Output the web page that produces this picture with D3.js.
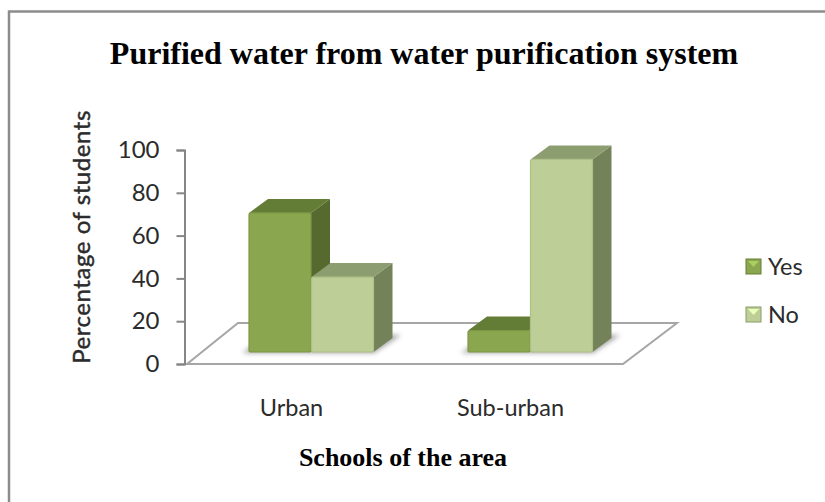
<!DOCTYPE html>
<html>
<head>
<meta charset="utf-8">
<script src="https://d3js.org/d3.v7.min.js"></script>
<style>
    html, body { margin: 0; padding: 0; background: #fff; }
    svg { display: block; }
    .tick text, .cat, .legend-label { font-family: Lato, "Open Sans", sans-serif; fill: #2b2b2b; }
    .title, .x-title { font-family: "Liberation Serif", serif; font-weight: bold; fill: #000; }
</style>
</head>
<body>
<div id="chart"></div>
<script>
var categories = ['Urban', 'Sub-urban'];
var series_names = ['Yes', 'No'];
var yes_values = [65, 10];
var no_values = [35, 90];
var y_ticks = [0, 20, 40, 60, 80, 100];

var series_colors = {
    Yes: {front: '#8aa64e', edge: '#7d9745', top: '#647d36', side: '#56692e'},
    No: {front: '#bdcf96', edge: '#aebf88', top: '#8c9e70', side: '#738259'}
};

var width = 825, height = 502;

// offset of the chart's depth direction
var depth = {dx: 19, dy: -14};
var floor = {left: 187, right: 623, front: 364, back: 323, skew: 52};
var bar_base = 352;

var svg = d3.select('#chart').append('svg')
    .attr('width', width)
    .attr('height', height);

var defs = svg.append('defs');
defs.append('filter').attr('id', 'soft')
    .attr('x', '-20%').attr('y', '-50%').attr('width', '140%').attr('height', '200%')
    .append('feGaussianBlur').attr('stdDeviation', 2.5);

// outer frame, runs off the page on the right and bottom
svg.append('path')
    .attr('d', 'M9,' + height + 'V11.5H' + width)
    .attr('fill', 'none')
    .attr('stroke', '#8c8c8c')
    .attr('stroke-width', 2.5);

svg.append('text').attr('class', 'title')
    .attr('x', 424).attr('y', 64)
    .attr('text-anchor', 'middle')
    .style('font-size', '32px')
    .text('Purified water from water purification system');

var y = d3.scaleLinear().domain([0, 100]).range([floor.front, 150]);
var x0 = d3.scaleBand().domain(categories).range([202, 640]);
var x1 = d3.scaleBand().domain(series_names).range([0, 125]);
var group_offset = (x0.bandwidth() - x1.range()[1]) / 2;

// floor of the plot
svg.append('path')
    .attr('d', 'M' + floor.left + ',' + floor.front + 'L' + floor.right + ',' + floor.front
        + 'L' + (floor.right + floor.skew + 2) + ',' + floor.back
        + 'L' + (floor.left + floor.skew - 1) + ',' + floor.back + 'Z')
    .attr('fill', '#fff')
    .attr('stroke', '#a6a6a6')
    .attr('stroke-width', 2);

var y_axis = svg.append('g')
    .attr('transform', 'translate(184.5,0)')
    .call(d3.axisLeft(y).tickValues(y_ticks).tickSize(8).tickPadding(17));
y_axis.select('.domain').attr('stroke', '#868686').attr('stroke-width', 2);
y_axis.selectAll('line').attr('stroke', '#868686').attr('stroke-width', 2);
y_axis.selectAll('text').style('font-size', '24px');

svg.append('text').attr('class', 'cat')
    .attr('transform', 'translate(90,237) rotate(-90)')
    .attr('text-anchor', 'middle')
    .style('font-size', '24px')
    .style('letter-spacing', '0.55px')
    .style('stroke', '#2b2b2b')
    .style('stroke-width', '0.45px')
    .text('Percentage of students');

// soft shadow on the floor under each group
svg.append('g').selectAll('path')
    .data(categories)
    .enter().append('path')
    .attr('filter', 'url(#soft)')
    .attr('fill', '#666')
    .attr('opacity', 0.6)
    .attr('d', function (d) {
        var l = x0(d) + group_offset, r = l + x1.range()[1];
        return 'M' + (l - 7) + ',' + (bar_base + 1) + 'L' + r + ',' + (bar_base + 1)
            + 'L' + (r + 27) + ',' + (bar_base - 17) + 'L' + (l + 20) + ',' + (bar_base - 17) + 'Z';
    });

var bars = [];
categories.forEach(function (c, i) {
    bars.push({cat: c, name: 'Yes', value: yes_values[i]});
    bars.push({cat: c, name: 'No', value: no_values[i]});
});

var bar = svg.append('g').selectAll('g')
    .data(bars)
    .enter().append('g')
    .each(function (d) {
        var g = d3.select(this);
        var l = x0(d.cat) + group_offset + x1(d.name);
        var r = l + x1.bandwidth() - 0.5;
        var top = bar_base - (y(0) - y(d.value));
        var c = series_colors[d.name];

        g.append('path')
            .attr('fill', c.side)
            .attr('d', 'M' + r + ',' + top + 'L' + (r + depth.dx) + ',' + (top + depth.dy)
                + 'V' + (bar_base + depth.dy) + 'L' + r + ',' + bar_base + 'Z');
        g.append('path')
            .attr('fill', c.top)
            .attr('d', 'M' + l + ',' + top + 'L' + (l + depth.dx) + ',' + (top + depth.dy)
                + 'H' + (r + depth.dx) + 'L' + r + ',' + top + 'Z');
        g.append('rect')
            .attr('x', l).attr('y', top)
            .attr('width', r - l).attr('height', bar_base - top)
            .attr('rx', 2)
            .attr('fill', c.front)
            .attr('stroke', c.edge)
            .attr('stroke-width', 1.2);
    });

svg.append('g').selectAll('text')
    .data(categories)
    .enter().append('text')
    .attr('class', 'cat')
    .attr('x', function (d) { return x0(d) + x0.bandwidth() / 2 - 20; })
    .attr('y', 416)
    .attr('text-anchor', 'middle')
    .style('font-size', '23.5px')
    .text(function (d) { return d; });

svg.append('text').attr('class', 'x-title')
    .attr('x', 403).attr('y', 466)
    .attr('text-anchor', 'middle')
    .style('font-size', '26px')
    .text('Schools of the area');

// legend, swatches have the little bevel of the 3d bars
var legend = svg.append('g').selectAll('g')
    .data(series_names)
    .enter().append('g')
    .attr('transform', function (d, i) { return 'translate(746,' + (259 + i * 48) + ')'; });

legend.append('rect')
    .attr('width', 15).attr('height', 15)
    .attr('fill', function (d) { return series_colors[d].front; })
    .attr('stroke', function (d) { return d3.color(series_colors[d].side).brighter(0.5); })
    .attr('stroke-width', 1);
legend.append('path')
    .attr('d', 'M2,2H13L7.5,8Z')
    .attr('fill', function (d) { return d3.color(series_colors[d].front).brighter(0.6); });
legend.append('text')
    .attr('class', 'legend-label')
    .attr('x', 22).attr('y', 16)
    .style('font-size', '23.5px')
    .text(function (d) { return d; });
</script>
</body>
</html>
